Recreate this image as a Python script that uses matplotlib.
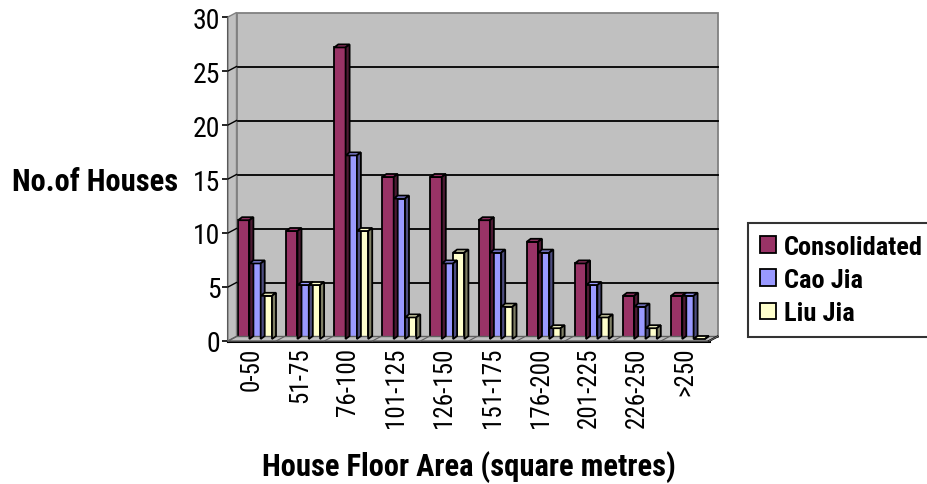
import matplotlib
matplotlib.use("Agg")
import matplotlib.pyplot as plt
from matplotlib.patches import Polygon, Rectangle, Patch
from matplotlib.transforms import ScaledTranslation, IdentityTransform
from matplotlib.lines import Line2D
import numpy as np

# ---- data -------------------------------------------------------------
categories = ['0-50', '51-75', '76-100', '101-125', '126-150',
              '151-175', '176-200', '201-225', '226-250', '>250']
consolidated = [11, 10, 27, 15, 15, 11, 9, 7, 4, 4]
cao_jia = [7, 5, 17, 13, 7, 8, 8, 5, 3, 4]
liu_jia = [4, 5, 10, 2, 8, 3, 1, 2, 1, 0]
series_names = ['Consolidated', 'Cao Jia', 'Liu Jia']
y_ticks = [0, 5, 10, 15, 20, 25, 30]

# ---- style ------------------------------------------------------------
face_colors = ['#993366', '#9999ff', '#ffffcc']
side_colors = ['#4d1a33', '#4d4d80', '#808066']
top_colors = ['#993366', '#9999ff', '#ffffcc']
wall_color = '#c0c0c0'

plt.rcParams['font.family'] = ['Roboto Condensed', 'Liberation Sans', 'DejaVu Sans']

W, H = 927, 485
DPI = 100
fig = plt.figure(figsize=(W / DPI, H / DPI), dpi=DPI)
fig.patch.set_facecolor('white')

ax = fig.add_axes([228 / W, 1 - 342 / H, (709 - 228) / W, (342 - 18) / H])
x_lo, x_hi = -0.5, len(categories) - 0.5
ax.set_xlim(x_lo, x_hi)
ax.set_ylim(0, 30)
ax.patch.set_visible(False)

# depth offsets (pixels, right / up)
WALL = (8.5, 4.5)
BAR_POS = (3.0, 2.0)
BAR_DEPTH = (4.0, 3.0)


def shifted(off):
    return ax.transData + ScaledTranslation(off[0] / DPI, off[1] / DPI, fig.dpi_scale_trans)


def disp(x, y, off=(0.0, 0.0)):
    px, py = ax.transData.transform((x, y))
    return (px + off[0], py + off[1])


def poly(points, **kw):
    p = Polygon(points, closed=True, transform=IdentityTransform(), clip_on=False, **kw)
    fig.add_artist(p)
    return p


def seg(p0, p1, **kw):
    fig.add_artist(Line2D([p0[0], p1[0]], [p0[1], p1[1]],
                          transform=IdentityTransform(), **kw))


# back wall
ax.add_patch(Rectangle((x_lo, 0), x_hi - x_lo, 30, transform=shifted(WALL),
                       facecolor=wall_color, edgecolor='#808080', lw=1.3,
                       zorder=0.5, clip_on=False))
# left side wall
poly([disp(x_lo, 0), disp(x_lo, 30), disp(x_lo, 30, WALL), disp(x_lo, 0, WALL)],
     facecolor=wall_color, edgecolor='#808080', lw=1.0, zorder=0.6)
# floor
poly([disp(x_lo, 0), disp(x_hi, 0), disp(x_hi, 0, WALL), disp(x_lo, 0, WALL)],
     facecolor=wall_color, edgecolor='#606060', lw=1.0, zorder=0.6)
seg(disp(x_hi, 0), disp(x_hi, 0, WALL), color='black', lw=1.5, zorder=0.65)
# category divisions on the floor
for b in np.arange(x_lo, x_hi + 0.01, 1.0):
    seg(disp(b, 0), disp(b, 0, WALL), color='#606060', lw=0.8, zorder=0.65)

# gridlines on back wall and side wall
for v in y_ticks[1:-1]:
    ax.plot([x_lo, x_hi], [v, v], transform=shifted(WALL), color='black', lw=1.3,
            zorder=0.7, clip_on=False)
    seg(disp(x_lo, v), disp(x_lo, v, WALL), color='black', lw=1.0, zorder=0.7)

# ---- bars -------------------------------------------------------------
values = [consolidated, cao_jia, liu_jia]
n = len(values)
bw = 0.235
x = np.arange(len(categories))
z = 3
o1 = BAR_POS
o2 = (BAR_POS[0] + BAR_DEPTH[0], BAR_POS[1] + BAR_DEPTH[1])
for ci in range(len(categories)):
    for si in range(n):
        h = values[si][ci]
        left = ci - n * bw / 2 + si * bw
        ax.bar(left, h, width=bw, align='edge', transform=shifted(BAR_POS),
               color=face_colors[si], edgecolor='black', lw=1.3, zorder=z,
               clip_on=False)
        z += 0.01
        # top face
        poly([disp(left, h, o1), disp(left + bw, h, o1), disp(left + bw, h, o2), disp(left, h, o2)],
             facecolor=top_colors[si], edgecolor='black', lw=1.3, zorder=z)
        z += 0.01
        # side face
        poly([disp(left + bw, 0, o1), disp(left + bw, h, o1), disp(left + bw, h, o2), disp(left + bw, 0, o2)],
             facecolor=side_colors[si], edgecolor='black', lw=1.3, zorder=z)
        z += 0.01

# ---- axes, ticks, labels ---------------------------------------------
for s in ['top', 'right']:
    ax.spines[s].set_visible(False)
for s in ['left', 'bottom']:
    ax.spines[s].set_linewidth(2.2)
    ax.spines[s].set_zorder(50)

ax.set_yticks(y_ticks)
ax.set_yticklabels([str(v) for v in y_ticks], fontsize=20)
ax.tick_params(axis='y', direction='out', length=4, width=1.2, pad=1.5, colors='black')

ax.set_xticks(x)
ax.set_xticklabels(categories, rotation=90, fontsize=18, va='top', ha='center')
ax.tick_params(axis='x', length=0, pad=4)

fig.text(178 / W, 1 - 182 / H, 'No.of Houses', ha='right', va='center',
         fontsize=22, fontweight='bold')
fig.text(469 / W, 1 - 476 / H, 'House Floor Area (square metres)', ha='center',
         va='baseline', fontsize=22, fontweight='bold')

handles = [Patch(facecolor=c, edgecolor='black', lw=1.3) for c in face_colors]
leg = fig.legend(handles, series_names, loc='upper left',
                 bbox_to_anchor=(748 / W, 1 - 224 / H), frameon=True, fancybox=False,
                 edgecolor='black', prop={'weight': 'bold', 'size': 19},
                 handlelength=0.6, handleheight=0.6, handletextpad=0.3,
                 labelspacing=0.35, borderpad=0.45, borderaxespad=0)
leg.get_frame().set_linewidth(1.5)

fig.savefig('out.png', dpi=DPI)
